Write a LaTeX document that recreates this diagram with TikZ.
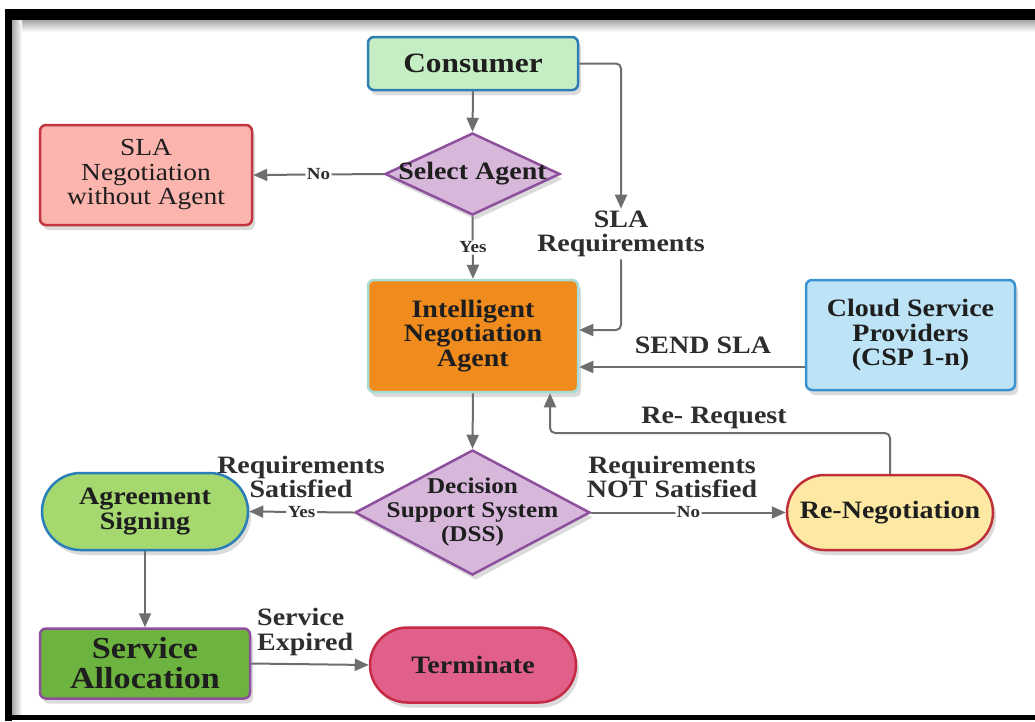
\documentclass[tikz,border=0pt]{standalone}
\usepackage{fontspec}
\setmainfont{Liberation Serif}[FakeStretch=1.12]
\usetikzlibrary{arrows.meta,shapes.geometric,shapes.misc,shadows,calc}

\definecolor{consf}{HTML}{C6EEC4}
\definecolor{consd}{HTML}{2F7FB5}
\definecolor{diaf}{HTML}{D7B8DB}
\definecolor{diad}{HTML}{8E4F9C}
\definecolor{negf}{HTML}{FBB4AE}
\definecolor{negd}{HTML}{C2363F}
\definecolor{inaf}{HTML}{EF8C1D}
\definecolor{inad}{HTML}{A6DCD4}
\definecolor{cspf}{HTML}{BDE3F6}
\definecolor{cspd}{HTML}{3B93D1}
\definecolor{renf}{HTML}{FDE9A3}
\definecolor{rend}{HTML}{C0303A}
\definecolor{asf}{HTML}{A5D86E}
\definecolor{asd}{HTML}{2B7FB8}
\definecolor{saf}{HTML}{6DB33F}
\definecolor{sad}{HTML}{8E4F9C}
\definecolor{termf}{HTML}{E0608A}
\definecolor{termd}{HTML}{C62A45}
\definecolor{lineg}{HTML}{6E6E6E}
\definecolor{txt}{HTML}{1E1E1E}
\definecolor{lbltxt}{HTML}{2E2E2E}

\tikzset{
  shade3/.style={drop shadow={shadow xshift=3pt, shadow yshift=-5pt, opacity=0.28}},
  box/.style={draw, line width=2.5pt, rounded corners=6pt, shade3, align=center,
    text=txt, inner sep=2pt, font=\bfseries\fontsize{25}{24.5}\selectfont},
  pill/.style={rounded rectangle, draw, line width=2.5pt, shade3, align=center,
    text=txt, inner sep=2pt, font=\bfseries\fontsize{25}{24.5}\selectfont},
  dia/.style={diamond, draw=diad, fill=diaf, line width=2.5pt, shade3, inner sep=0pt},
  intext/.style={align=center, text=txt, inner sep=0pt},
  elbl/.style={align=center, text=lbltxt, inner sep=2pt,
    font=\bfseries\fontsize{25}{24.5}\selectfont},
  yn/.style={fill=white, inner sep=1.5pt, text=lbltxt,
    font=\bfseries\fontsize{17}{17}\selectfont},
  arr/.style={draw=lineg, line width=2pt, rounded corners=5pt,
    -{Triangle[length=14pt,width=12pt]}}
}

\begin{document}
\begin{tikzpicture}[x=1pt,y=-1pt]
\useasboundingbox (0,0) rectangle (1035,721);
\fill[white] (0,0) rectangle (1035,721);

% frame
\shade[top color=black!35, bottom color=white] (12,20) rectangle (1035,32);
\shade[left color=black!35, right color=white] (12,20) rectangle (22,715);
\fill[black] (5,9) rectangle (1035,20);
\fill[black] (5,9) rectangle (12,721);
\fill[black] (5,715) rectangle (1035,720);

% nodes
\node[box, fill=consf, draw=consd, minimum width=210pt, minimum height=53pt,
  font=\bfseries\fontsize{28}{28}\selectfont] (cons) at (473,63.5) {Consumer};

\node[dia, minimum width=175pt, minimum height=82pt] (sel) at (472.5,174) {};
\node[intext, font=\bfseries\fontsize{25}{24}\selectfont] at (sel) {Select Agent};

\node[box, fill=negf, draw=negd, minimum width=212pt, minimum height=100pt,
  font=\fontsize{24.5}{24.5}\selectfont] (nog) at (146,175) {SLA\\Negotiation\\without Agent};

\node[box, fill=inaf, draw=inad, minimum width=210pt, minimum height=112pt]
  (ina) at (473,336) {Intelligent\\Negotiation\\Agent};

\node[box, fill=cspf, draw=cspd, minimum width=209pt, minimum height=110pt]
  (csp) at (910.5,335) {Cloud Service\\Providers\\(CSP 1-n)};

\node[dia, minimum width=235pt, minimum height=125pt] (dss) at (472.5,512.5) {};
\node[intext, font=\bfseries\fontsize{22.5}{24}\selectfont] at (dss) {Decision\\Support System\\(DSS)};

\node[pill, fill=renf, draw=rend, minimum width=210pt, minimum height=75pt]
  (ren) at (890,512.5) {Re-Negotiation};

\node[pill, fill=asf, draw=asd, minimum width=210pt, minimum height=77pt]
  (as) at (145,511.5) {Agreement\\Signing};

\node[box, fill=saf, draw=sad, minimum width=210pt, minimum height=70pt,
  font=\bfseries\fontsize{30.5}{30}\selectfont] (sa) at (145,663.5) {Service\\Allocation};

\node[pill, fill=termf, draw=termd, minimum width=210pt, minimum height=75pt]
  (term) at (473,665) {Terminate};

% connector labels
\node[elbl] (slareq) at (621,234) {SLA\\Requirements};
\node[elbl] at (703,345) {SEND SLA};
\node[elbl] at (714,418) {Re- Request};
\node[elbl] at (301,477) {Requirements\\Satisfied};
\node[elbl] at (672,477) {Requirements\\NOT Satisfied};
\node[elbl, align=left, anchor=west] at (255,632) {Service\\Expired};

% connectors
\draw[arr] (cons.south) -- (sel.north);
\draw[arr] (sel.west) -- node[yn]{No} (nog.east);
\draw[arr] (sel.south) -- node[yn]{Yes} (ina.north);
\draw[arr] (cons.east) -| (slareq.north);
\draw[arr] (slareq.south) |- ($(ina.east)+(0,-6)$);
\draw[arr] ($(csp.west)+(0,32)$) -- ($(ina.east)+(0,31)$);
\draw[arr] (ina.south) -- (dss.north);
\coordinate (rr) at (550,433);
\draw[arr] (ren.north) |- (rr) -- (rr |- ina.south);
\draw[arr] (dss.west) -- node[yn]{Yes} (as.east);
\draw[arr] (dss.east) -- node[yn]{No} (ren.west);
\draw[arr] (as.south) -- (sa.north);
\draw[arr] (sa.east) -- (term.west);
\end{tikzpicture}
\end{document}
